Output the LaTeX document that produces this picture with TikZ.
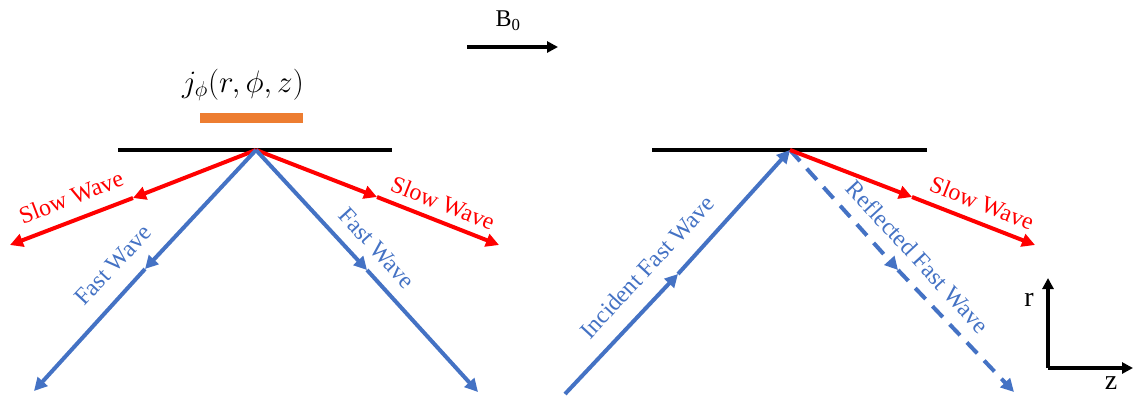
\documentclass[tikz,border=0pt]{standalone}
\usepackage{fontspec}
\setmainfont{Liberation Serif}
\usetikzlibrary{arrows.meta}
\definecolor{wred}{HTML}{FF0000}
\definecolor{wblue}{HTML}{4472C4}
\definecolor{worange}{HTML}{ED7D31}
\tikzset{
  plate/.style={line width=3.2pt, black},
  slowray/.style={line width=4pt, wred, -{Triangle[length=13pt,width=13pt]}},
  fastray/.style={line width=4pt, wblue, -{Triangle[length=13pt,width=13pt]}},
  dashray/.style={fastray, dash pattern=on 15pt off 10pt},
  slowlbl/.style={text=wred, font=\fontsize{24}{26}\selectfont, inner sep=0pt},
  fastlbl/.style={text=wblue, font=\fontsize{24}{26}\selectfont, inner sep=0pt},
  axis/.style={line width=3.4pt, black, -{Triangle[length=11pt,width=11pt]}},
  plainlbl/.style={font=\fontsize{24}{26}\selectfont, inner sep=0pt},
}
\begin{document}
\begin{tikzpicture}[x=1pt,y=-1pt]
\useasboundingbox (0,0) rectangle (1133,400);
% B0
\coordinate (bs) at (467,47);
\coordinate (be) at (558,47);
\draw[axis] (bs) -- (be);
\node[plainlbl] (b0) at (508,21) {B\textsubscript{0}};
% current strap
\node[fill=worange, minimum width=103pt, minimum height=10pt, inner sep=0pt] (strap) at (251,118) {};
\node[inner sep=0pt, scale=1.5, font=\fontsize{20.74}{24}\selectfont] (jlbl) at (243,85) {$j_\phi(r,\phi,z)$};
% left plate
\coordinate (lp1) at (118,150);
\coordinate (lp2) at (392,150);
\draw[plate] (lp1) -- (lp2);
\coordinate (la) at (256,150);
\coordinate (lsm) at (133,198);
\coordinate (lse) at (10,245);
\coordinate (lfm) at (145,269);
\coordinate (lfe) at (34,391);
\coordinate (rsm) at (377,197);
\coordinate (rse) at (499,245);
\coordinate (rfm) at (367,270);
\coordinate (rfe) at (478,392);
\draw[slowray] (la) -- (lsm);
\draw[slowray] (lsm) -- (lse);
\draw[slowray] (la) -- (rsm);
\draw[slowray] (rsm) -- (rse);
\draw[fastray] (la) -- (lfm);
\draw[fastray] (lfm) -- (lfe);
\draw[fastray] (la) -- (rfm);
\draw[fastray] (rfm) -- (rfe);
\node[slowlbl, rotate=21] (ls) at (71,197) {Slow Wave};
\node[fastlbl, rotate=47] (lf) at (113,265) {Fast Wave};
\node[slowlbl, rotate=-21.5] (rs) at (443,203) {Slow Wave};
\node[fastlbl, rotate=-47.5] (rf) at (377,248) {Fast Wave};
% right plate
\coordinate (rp1) at (652,150);
\coordinate (rp2) at (927,150);
\draw[plate] (rp1) -- (rp2);
\coordinate (ra) at (790,150);
\coordinate (is) at (565,394);
\coordinate (im) at (678,274);
\coordinate (rdm) at (898,270);
\coordinate (rde) at (1014,392);
\coordinate (r2m) at (912,197);
\coordinate (r2e) at (1035,245);
\draw[fastray] (is) -- (im);
\draw[fastray] (im) -- (ra);
\draw[dashray] (ra) -- (rdm);
\draw[dashray] (rdm) -- (rde);
\draw[slowray] (ra) -- (r2m);
\draw[slowray] (r2m) -- (r2e);
\node[fastlbl, rotate=47.2] (inc) at (647,267) {Incident Fast Wave};
\node[fastlbl, rotate=-47.2] (refl) at (918,257) {Reflected Fast Wave};
\node[slowlbl, rotate=-21.5] (r2s) at (982,203) {Slow Wave};
% axes
\coordinate (ao) at (1048,368);
\coordinate (ar) at (1048,278);
\coordinate (az) at (1133,368);
\draw[axis] (ao) -- (ar);
\draw[axis] (ao) -- (az);
\node[plainlbl, font=\fontsize{28}{30}\selectfont] (rl) at (1029,300) {r};
\node[plainlbl, font=\fontsize{28}{30}\selectfont] (zl) at (1111,383) {z};
\end{tikzpicture}
\end{document}
